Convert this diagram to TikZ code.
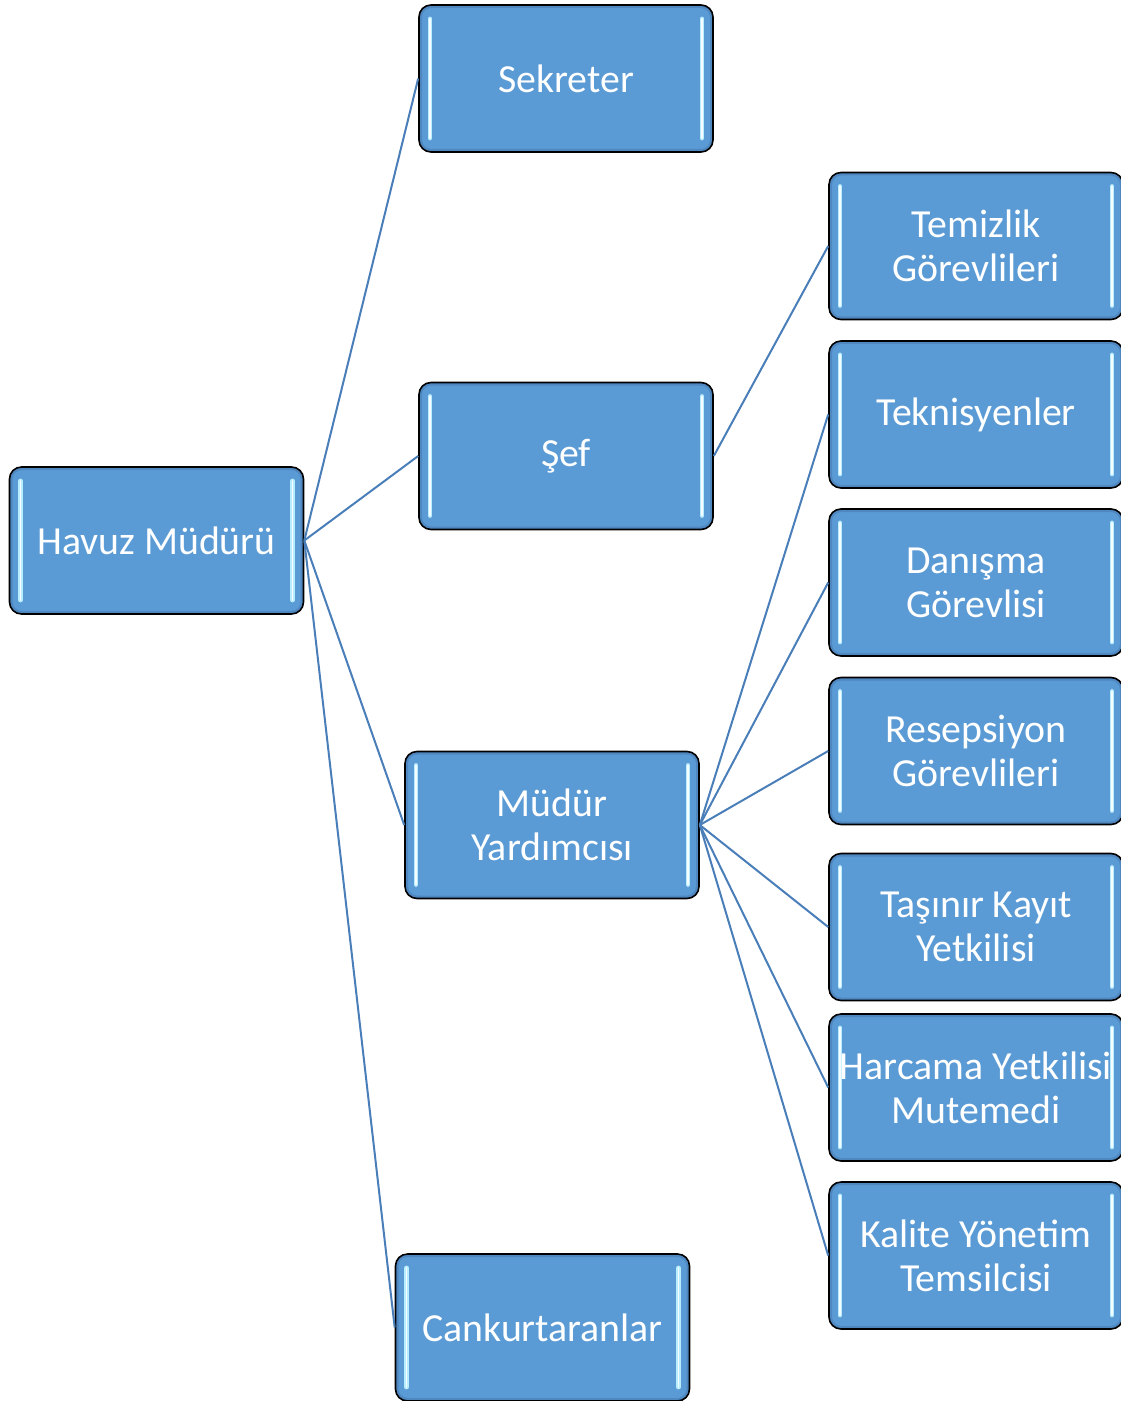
\documentclass[tikz,border=0pt]{standalone}
\usepackage{fontspec}
\setmainfont{Carlito}
\definecolor{boxblue}{HTML}{5B9BD5}
\definecolor{edgeblue}{HTML}{4F87C0}
\definecolor{hlcyan}{HTML}{B8ECFF}
\definecolor{linkblue}{HTML}{4A7EB8}
\tikzset{
  orgbox/.style={draw=black, line width=0.8pt, rounded corners=6pt, fill=boxblue,
    text=white, minimum width=147pt, minimum height=73.5pt, align=center,
    inner sep=0pt, font=\fontsize{19.9}{22}\selectfont,
    path picture={
      \draw[edgeblue, line width=3pt, rounded corners=6pt]
        (path picture bounding box.north west) rectangle (path picture bounding box.south east);
      \foreach \s/\a/\b in {1/north west/south west, -1/north east/south east}{
        \draw[hlcyan, line width=2.4pt, line cap=round]
          ([xshift=\s*5.5pt,yshift=-7pt]path picture bounding box.\a) --
          ([xshift=\s*5.5pt,yshift=7pt]path picture bounding box.\b);
        \draw[white!85!hlcyan, line width=0.8pt, line cap=round]
          ([xshift=\s*5.5pt,yshift=-7pt]path picture bounding box.\a) --
          ([xshift=\s*5.5pt,yshift=7pt]path picture bounding box.\b);
      }
    }},
  link/.style={draw=linkblue, line width=1pt}
}
\begin{document}
\begin{tikzpicture}[x=0.5pt, y=-0.5pt]
\useasboundingbox (0,0) rectangle (1120,1401);
\node[orgbox] (havuz) at (156.5,540.5) {Havuz Müdürü};
\node[orgbox] (sek) at (566,78.5) {Sekreter};
\node[orgbox] (sef) at (566,456) {Şef};
\node[orgbox] (my) at (552,825) {Müdür\\Yardımcısı};
\node[orgbox] (can) at (542.5,1327.5) {Cankurtaranlar};
\node[orgbox] (tem) at (976,246) {Temizlik\\Görevlileri};
\node[orgbox] (tek) at (976,414.5) {Teknisyenler};
\node[orgbox] (dan) at (976,582.5) {Danışma\\Görevlisi};
\node[orgbox] (res) at (976,751) {Resepsiyon\\Görevlileri};
\node[orgbox] (tas) at (976,927) {Taşınır Kayıt\\Yetkilisi};
\node[orgbox] (har) at (976,1087.5) {Harcama Yetkilisi\\Mutemedi};
\node[orgbox] (kal) at (976,1255.5) {Kalite Yönetim\\Temsilcisi};
\foreach \t in {sek,sef,my,can}{\draw[link] (havuz.east) -- (\t.west);}
\draw[link] (sef.east) -- (tem.west);
\foreach \t in {tek,dan,res,tas,har,kal}{\draw[link] (my.east) -- (\t.west);}
\end{tikzpicture}
\end{document}
